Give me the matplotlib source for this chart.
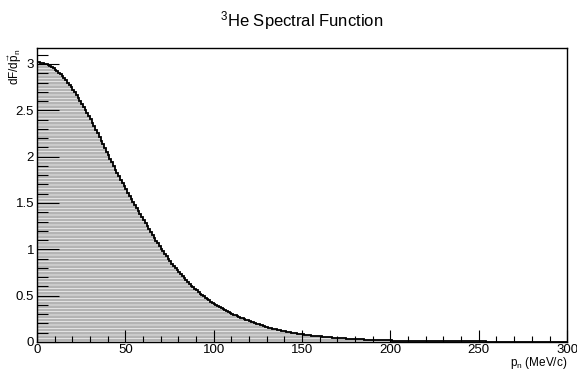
import numpy as np
import matplotlib.pyplot as plt
from matplotlib.ticker import MultipleLocator

plt.rcParams['font.family'] = ['Liberation Sans', 'DejaVu Sans']
plt.rcParams['mathtext.fontset'] = 'custom'
plt.rcParams['mathtext.rm'] = 'Liberation Sans'
plt.rcParams['mathtext.it'] = 'Liberation Sans:italic'
plt.rcParams['hatch.linewidth'] = 0.45

# momentum bins (MeV/c), 1 MeV wide
bin_edges = np.arange(0, 301, 1)

# spectral function dF/dp per bin
spectral = [
    3.020, 3.018, 3.015, 3.011, 3.005, 2.997, 2.989, 2.978, 2.967, 2.953,
    2.939, 2.923, 2.906, 2.887, 2.867, 2.846, 2.824, 2.800, 2.775, 2.749,
    2.722, 2.694, 2.665, 2.635, 2.604, 2.572, 2.540, 2.506, 2.472, 2.437,
    2.401, 2.364, 2.327, 2.290, 2.252, 2.213, 2.174, 2.135, 2.095, 2.055,
    2.015, 1.976, 1.937, 1.898, 1.860, 1.823, 1.786, 1.750, 1.715, 1.680,
    1.646, 1.612, 1.578, 1.545, 1.512, 1.479, 1.446, 1.413, 1.380, 1.347,
    1.314, 1.282, 1.250, 1.218, 1.187, 1.156, 1.125, 1.095, 1.065, 1.036,
    1.007, 0.979, 0.951, 0.924, 0.897, 0.871, 0.846, 0.821, 0.797, 0.774,
    0.751, 0.729, 0.708, 0.687, 0.667, 0.647, 0.628, 0.609, 0.591, 0.573,
    0.556, 0.539, 0.523, 0.507, 0.492, 0.477, 0.462, 0.448, 0.434, 0.421,
    0.409, 0.397, 0.385, 0.374, 0.363, 0.353, 0.342, 0.332, 0.323, 0.313,
    0.304, 0.295, 0.287, 0.278, 0.270, 0.262, 0.255, 0.247, 0.240, 0.233,
    0.225, 0.218, 0.211, 0.204, 0.197, 0.190, 0.184, 0.178, 0.172, 0.166,
    0.161, 0.155, 0.150, 0.145, 0.140, 0.136, 0.131, 0.127, 0.123, 0.119,
    0.115, 0.111, 0.107, 0.104, 0.100, 0.097, 0.094, 0.091, 0.088, 0.085,
    0.0820, 0.0797, 0.0771, 0.0747, 0.0723, 0.0700, 0.0677, 0.0656, 0.0635, 0.0614,
    0.0595, 0.0576, 0.0557, 0.0539, 0.0522, 0.0505, 0.0489, 0.0473, 0.0458, 0.0444,
    0.0429, 0.0416, 0.0402, 0.0389, 0.0377, 0.0365, 0.0353, 0.0342, 0.0331, 0.0320,
    0.0310, 0.0300, 0.0290, 0.0281, 0.0272, 0.0263, 0.0255, 0.0247, 0.0239, 0.0231,
    0.0224, 0.0216, 0.0209, 0.0203, 0.0196, 0.0190, 0.0184, 0.0178, 0.0172, 0.0167,
    0.0163, 0.0160, 0.0156, 0.0153, 0.0150, 0.0147, 0.0144, 0.0141, 0.0138, 0.0135,
    0.0132, 0.0129, 0.0127, 0.0124, 0.0121, 0.0119, 0.0116, 0.0114, 0.0112, 0.0109,
    0.0107, 0.0105, 0.0103, 0.0100, 0.0098, 0.0096, 0.0094, 0.0092, 0.0090, 0.0088,
    0.0087, 0.0085, 0.0083, 0.0081, 0.0080, 0.0078, 0.0076, 0.0075, 0.0073, 0.0072,
    0.0070, 0.0069, 0.0067, 0.0066, 0.0064, 0.0063, 0.0062, 0.0060, 0.0059, 0.0058,
    0.0057, 0.0055, 0.0054, 0.0053, 0.0052, 0.0051, 0.0050, 0.0049, 0.0048, 0.0047,
    0.0046, 0.0045, 0.0044, 0.0043, 0.0042, 0.0041, 0.0040, 0.0039, 0.0038, 0.0038,
    0.0037, 0.0036, 0.0035, 0.0034, 0.0034, 0.0033, 0.0032, 0.0032, 0.0031, 0.0030,
    0.0030, 0.0029, 0.0028, 0.0028, 0.0027, 0.0027, 0.0026, 0.0025, 0.0025, 0.0024,
    0.0024, 0.0023, 0.0023, 0.0022, 0.0022, 0.0021, 0.0021, 0.0020, 0.0020, 0.0019,
]

fig = plt.figure(figsize=(5.77, 3.70), dpi=100)
ax = fig.add_axes([0.064, 0.0757, 0.919, 0.794])

# patterned fill, then the outline on top
ax.stairs(spectral, bin_edges, fill=True, facecolor='#b4b4b4', edgecolor='white',
          hatch='-----', linewidth=0)
ax.stairs(spectral, bin_edges, color='black', linewidth=1.3)

ax.set_xlim(0, 300)
ax.set_ylim(0, 3.17)

ax.xaxis.set_major_locator(MultipleLocator(50))
ax.xaxis.set_minor_locator(MultipleLocator(10))
ax.yaxis.set_major_locator(MultipleLocator(0.5))
ax.yaxis.set_minor_locator(MultipleLocator(0.1))
ax.tick_params(axis='both', which='both', direction='in', labelsize=9.5,
               width=0.8, top=False, right=False)
ax.tick_params(axis='x', which='major', length=9, pad=1.5)
ax.tick_params(axis='x', which='minor', length=4.5)
ax.tick_params(axis='y', which='major', length=16, pad=2)
ax.tick_params(axis='y', which='minor', length=8)
ax.yaxis.set_major_formatter(plt.FuncFormatter(lambda v, _: f'{v:g}'))
for s in ax.spines.values():
    s.set_linewidth(1.0)

ax.set_title('$^{3}$He Spectral Function', fontsize=12, pad=16)
fig.text(567 / 577, 1 - 363 / 370, r'$\mathrm{p}_{\mathrm{n}}$ (MeV/c)',
         fontsize=8.5, ha='right', va='center')
ax.set_ylabel(r'dF/d$\vec{\mathrm{p}}_{\mathrm{n}}$', fontsize=8.5, loc='top')
ax.yaxis.set_label_coords(-0.025, 1.0)

fig.savefig('out.png', dpi=100)
